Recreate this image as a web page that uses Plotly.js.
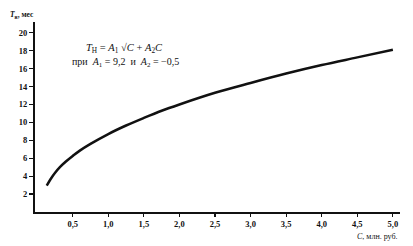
<!DOCTYPE html>
<html>
<head>
<meta charset="utf-8">
<script src="https://cdn.plot.ly/plotly-3.0.1.min.js"></script>
<style>html,body{margin:0;padding:0;background:#fff;}#chart{width:413px;height:246px;}</style>
</head>
<body>
<div id="chart"></div>
<script>
const costC = [0.135, 0.2, 0.25, 0.32, 0.4, 0.5, 0.6, 0.75, 1.0, 1.25, 1.5, 1.75, 2.0, 2.5, 3.0, 3.5, 4.0, 4.5, 5.0];
const termT = [2.95, 3.8, 4.35, 5.0, 5.6, 6.25, 6.85, 7.6, 8.7, 9.65, 10.5, 11.3, 12.0, 13.3, 14.4, 15.45, 16.4, 17.25, 18.1];
const xTickVals = [0.5, 1.0, 1.5, 2.0, 2.5, 3.0, 3.5, 4.0, 4.5, 5.0];
const xTickText = ["0,5", "1,0", "1,5", "2,0", "2,5", "3,0", "3,5", "4,0", "4,5", "5,0"];
const yTickVals = [2, 4, 6, 8, 10, 12, 14, 16, 18, 20];
const yTickText = ["2", "4", "6", "8", "10", "12", "14", "16", "18", "20"];

const serif = "Liberation Serif, DejaVu Serif, serif";

const trace = {
  x: costC, y: termT, type: "scatter", mode: "lines",
  line: {color: "#111", width: 2.5, shape: "spline", smoothing: 1},
  hoverinfo: "skip"
};

const layout = {
  width: 413, height: 246,
  margin: {l: 35, r: 13, t: 22, b: 34},
  paper_bgcolor: "#fff", plot_bgcolor: "#fff",
  showlegend: false,
  font: {family: serif, color: "#111", size: 8},
  xaxis: {
    range: [-0.03, 5.1], showgrid: false, zeroline: false,
    showline: true, linecolor: "#111", linewidth: 2,
    tickmode: "array", tickvals: xTickVals, ticktext: xTickText,
    ticks: "outside", ticklen: 3, tickwidth: 1.2, tickcolor: "#111",
    tickfont: {family: serif, size: 8.5, color: "#111", weight: "bold"}
  },
  yaxis: {
    range: [0, 21.2], showgrid: false, zeroline: false,
    showline: true, linecolor: "#111", linewidth: 2,
    tickmode: "array", tickvals: yTickVals, ticktext: yTickText,
    ticks: "outside", ticklen: 4, tickwidth: 1.2, tickcolor: "#111",
    tickfont: {family: serif, size: 8.5, color: "#111", weight: "bold"}
  },
  annotations: [
    {xref: "paper", yref: "paper", x: (8-35)/365, y: (212-15)/190, xanchor: "left", yanchor: "middle",
     showarrow: false, text: "<i>T</i><sub>н</sub>, мес",
     font: {family: serif, size: 7.5, color: "#111", weight: "bold"}},
    {xref: "paper", yref: "paper", x: (400-35)/365, y: -(236-212)/190, xanchor: "right", yanchor: "middle",
     showarrow: false, text: "<i>C</i>, млн. руб.",
     font: {family: serif, size: 8, color: "#111"}},
    {xref: "paper", yref: "paper", x: (124-35)/365, y: (212-48)/190, xanchor: "center", yanchor: "middle",
     showarrow: false,
     text: "<i>T</i><sub>Н</sub> = <i>A</i><sub>1</sub> √<i>C</i> + <i>A</i><sub>2</sub><i>C</i>",
     font: {family: serif, size: 10.5, color: "#111"}},
    {xref: "paper", yref: "paper", x: (125-35)/365, y: (212-62)/190, xanchor: "center", yanchor: "middle",
     showarrow: false,
     text: "при  <i>A</i><sub>1</sub> = 9,2  и  <i>A</i><sub>2</sub> = −0,5",
     font: {family: serif, size: 10, color: "#111"}}
  ]
};

Plotly.newPlot("chart", [trace], layout, {displayModeBar: false, staticPlot: true});
</script>
</body>
</html>
